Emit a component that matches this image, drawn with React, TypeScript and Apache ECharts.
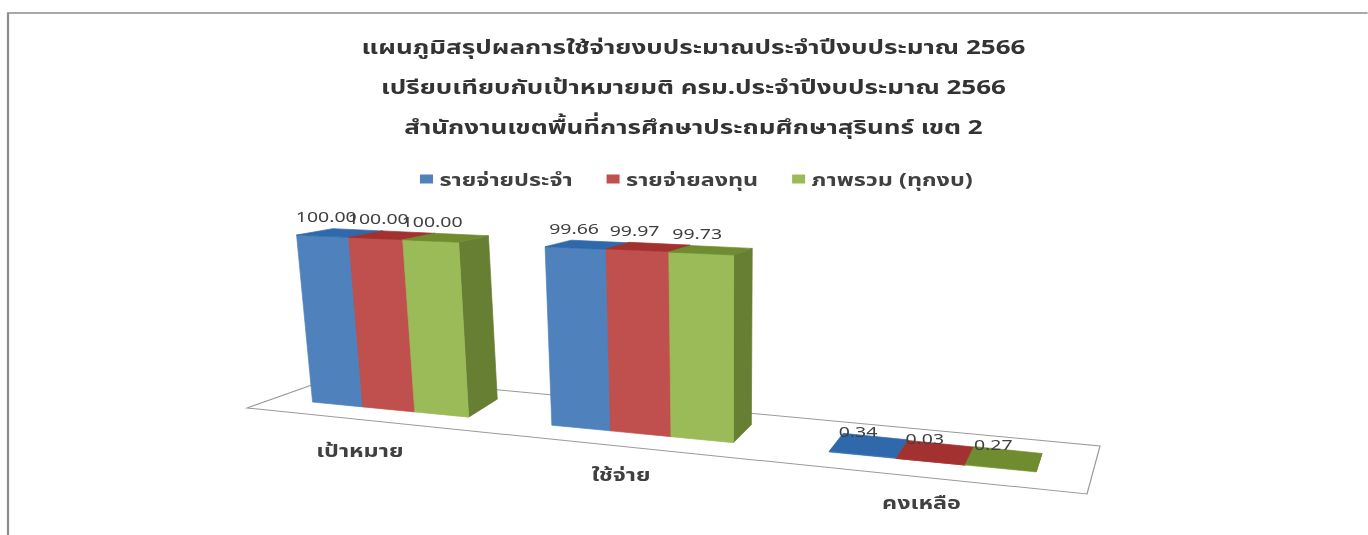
import React, { useEffect, useRef } from "react";
import * as echarts from "echarts";

const titleLines = [
  "แผนภูมิสรุปผลการใช้จ่ายงบประมาณประจำปีงบประมาณ 2566",
  "เปรียบเทียบกับเป้าหมายมติ ครม.ประจำปีงบประมาณ 2566",
  "สำนักงานเขตพื้นที่การศึกษาประถมศึกษาสุรินทร์ เขต 2",
];
const categories = ["เป้าหมาย", "ใช้จ่าย", "คงเหลือ"];
const routineName = "รายจ่ายประจำ";
const investName = "รายจ่ายลงทุน";
const overallName = "ภาพรวม (ทุกงบ)";
const routine = [100.0, 99.66, 0.34];
const invest = [100.0, 99.97, 0.03];
const overall = [100.0, 99.73, 0.27];

const FONT = '"Noto Sans", "Noto Sans Thai", "DejaVu Sans", sans-serif';
const BAR_SHARE = 0.67;
// The reference picture is stretched horizontally; the chart is drawn narrow and widened as a whole.
const SX = 1.3;

// Oblique projection of the plot plane, as in a tilted 3-D column chart (page pixels).
const frontX = (s: number) => 640.5 + 271 * s + 19 * s * s;
const floor = (s: number, v: number): number[] => {
  const x = frontX(s);
  const y = 402 + 0.0966 * (x - 312);
  return [x + (47.5 - 0.0403 * x) * v, y - 18 * v];
};
const raise = (p: number[], H: number): number[] => {
  const h = 0.625 * (p[1] - 402) + 167 - 0.01 * (p[0] - 312);
  return [p[0] + (p[0] - 728) * 0.0385 * H, p[1] - h * H];
};
const narrow = (p: number[]) => [p[0] / SX, p[1]];

const palette = [
  { front: "#4f81bd", top: "#2f69ab", side: "#2f5f96" },
  { front: "#c0504d", top: "#a3312f", side: "#8f3533" },
  { front: "#9bbb59", top: "#6f8c30", side: "#667f32" },
];

const makeRender = (slot: number) => (_: any, api: any) => {
  const idx = api.value(0);
  const val = api.value(1);
  const c = api.coord([idx, val]);
  const base = api.coord([idx, 0]);
  const band = api.size([1, 0])[0];
  const full = api.size([0, 100])[1];
  const mid = api.coord([1, 0])[0];
  const H = (base[1] - c[1]) / full;
  const barW = (band * BAR_SHARE) / 3;
  const s0 = (c[0] + (slot - 1.5) * barW - mid) / band;
  const s1 = s0 + barW / band;
  const fl = floor(s0, 0), fr = floor(s1, 0), bl = floor(s0, 1), br = floor(s1, 1);
  const tfl = raise(fl, H), tfr = raise(fr, H), tbl = raise(bl, H), tbr = raise(br, H);
  const col = palette[slot];
  const poly = (points: number[][], fill: string) => ({
    type: "polygon",
    shape: { points: points.map(narrow) },
    style: { fill, stroke: fill, lineWidth: 0.6 },
  });
  const cxTop = (tfl[0] + tfr[0] + tbl[0] + tbr[0]) / 4;
  const cyTop = (tfl[1] + tfr[1] + tbl[1] + tbr[1]) / 4;
  return {
    type: "group",
    children: [
      poly([fr, br, tbr, tfr], col.side),
      poly([fl, fr, tfr, tfl], col.front),
      poly([tfl, tfr, tbr, tbl], col.top),
      {
        type: "text",
        z2: 50,
        style: {
          text: val.toFixed(2),
          x: (cxTop - 11 - 3 * H) / SX,
          y: cyTop - 15 - 2 * H,
          align: "center",
          verticalAlign: "middle",
          font: `15px ${FONT}`,
          fill: "#404040",
        },
      },
    ],
  };
};

const renderCategory = (_: any, api: any) => {
  const idx = api.value(0);
  const c = api.coord([idx, 0]);
  const band = api.size([1, 0])[0];
  const mid = api.coord([1, 0])[0];
  const p = floor((c[0] - mid) / band, -0.9);
  return {
    type: "text",
    style: {
      text: categories[idx],
      x: p[0] / SX,
      y: p[1] + 24.5,
      align: "center",
      verticalAlign: "middle",
      font: `bold 18px ${FONT}`,
      fill: "#404040",
    },
  };
};

export default function App() {
  const ref = useRef<HTMLDivElement>(null);
  useEffect(() => {
    const chart = echarts.init(ref.current!, undefined, { renderer: "svg" });
    const bar = (name: string, values: number[], slot: number) => ({
      name,
      type: "custom",
      renderItem: makeRender(slot),
      itemStyle: { color: palette[slot].front },
      encode: { x: 0, y: 1 },
      data: values.map((v, i) => [i, v]),
      clip: false,
    });
    const line = (pts: number[][]) => pts.map(narrow);
    chart.setOption({
      animation: false,
      backgroundColor: "#ffffff",
      title: {
        text: titleLines.join("\n"),
        left: 687 / SX,
        top: 22,
        textAlign: "center",
        textStyle: {
          fontFamily: FONT,
          fontSize: 20,
          fontWeight: "bold",
          color: "#333333",
          lineHeight: 39.5,
        },
      },
      legend: {
        left: 420 / SX,
        top: 170,
        icon: "rect",
        itemWidth: 10,
        itemHeight: 9,
        itemGap: 26,
        padding: 0,
        textStyle: { fontFamily: FONT, fontSize: 18, fontWeight: "bold", color: "#404040" },
        data: [routineName, investName, overallName],
      },
      grid: { left: 150, right: 150, top: 200, bottom: 100, show: false },
      xAxis: { type: "category", data: categories, show: false },
      yAxis: { type: "value", min: 0, max: 100, show: false },
      graphic: [
        { type: "polyline", z: 0, silent: true, shape: { points: line([[8, 535], [8, 13], [1368, 13]]) }, style: { stroke: "#8c8c8c", lineWidth: 1.7, fill: "none" } },
        { type: "polygon", z: 0, silent: true, shape: { points: line([[247, 408], [1087, 494], [1100, 446], [340, 375]]) }, style: { stroke: "#9a9a9a", lineWidth: 1, fill: "none" } },
      ],
      series: [
        bar(routineName, routine, 0),
        bar(investName, invest, 1),
        bar(overallName, overall, 2),
        {
          name: "categories",
          type: "custom",
          renderItem: renderCategory,
          encode: { x: 0, y: 1 },
          data: categories.map((_, i) => [i, 0]),
          clip: false,
        },
      ],
    });
    return () => chart.dispose();
  }, []);
  return (
    <div
      ref={ref}
      style={{
        position: "fixed",
        left: 0,
        top: 0,
        width: 1368 / SX,
        height: 535,
        transform: `scaleX(${SX})`,
        transformOrigin: "0 0",
        filter: "blur(0.6px)",
      }}
    />
  );
}
